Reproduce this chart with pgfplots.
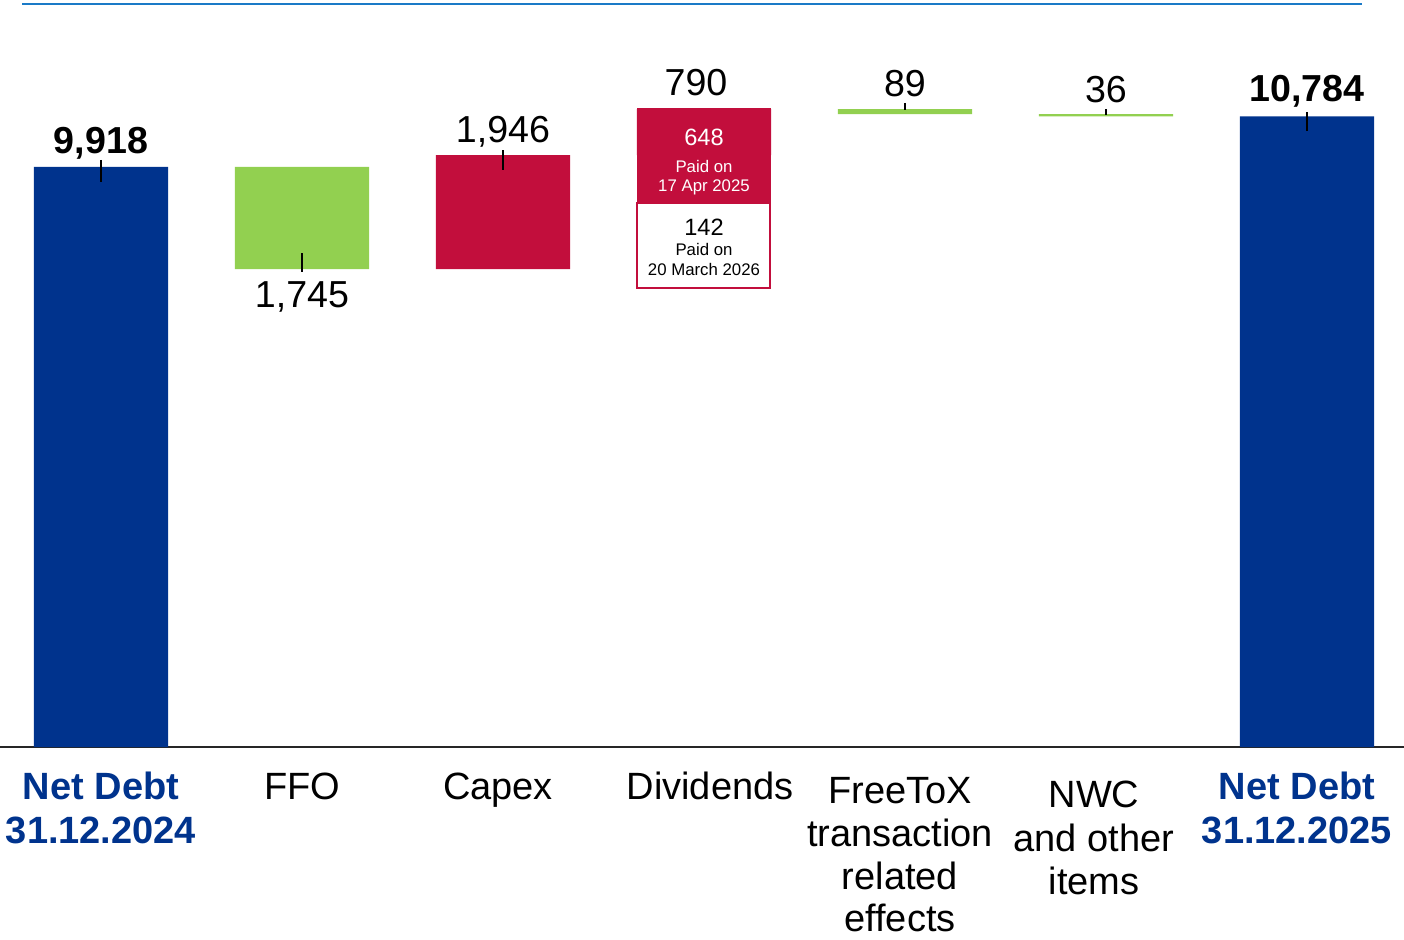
\documentclass[border=0pt]{standalone}
\usepackage{pgfplots}
\pgfplotsset{compat=1.18}
\usepackage{fontspec}
\setmainfont{Liberation Sans}
\definecolor{ndblue}{HTML}{00338D}
\definecolor{wgreen}{HTML}{92D050}
\definecolor{wred}{HTML}{C20E3C}
\definecolor{topblue}{HTML}{1A7AC7}
\newcommand{\lbl}[1]{\begin{tabular}{@{}c@{}}#1\end{tabular}}
\pgfplotsset{frame/.style={at={(0,0)}, anchor=south west,
  scale only axis, width=702pt, height=371.5pt,
  xmin=-0.5025, xmax=6.4826, ymin=0, ymax=12705, clip=false}}
\begin{document}
\begin{tikzpicture}
\useasboundingbox (0,-96pt) rectangle (702pt,373.5pt);
\begin{axis}[
  frame,
  ybar stacked, bar width=0.667,
  axis y line=none, axis x line*=bottom,
  x axis line style={-, line width=1pt, color=black!85},
  xtick={0,1,2,3,4,5,6}, xtick style={draw=none},
  xticklabels={
    {\color{ndblue}\bfseries\lbl{Net Debt\\31.12.2024}},
    {\lbl{FFO}},
    {\lbl{Capex}\hspace*{5pt}},
    {\hspace*{6pt}\lbl{Dividends}},
    {\fontsize{19}{21.4}\selectfont\lbl{\rule{0pt}{17.2pt}FreeToX\\transaction\\related\\effects}\hspace*{5pt}},
    {\lbl{\rule{0pt}{19.3pt}NWC\\and other\\items}\hspace*{12pt}},
    {\color{ndblue}\bfseries\lbl{Net Debt\\31.12.2025}\hspace*{10pt}}},
  xticklabel style={anchor=north, yshift=-7.5pt,
    font=\fontsize{19}{21.8}\selectfont},
]
% invisible base
\addplot[draw=none, fill=none, forget plot] coordinates {(0,0) (1,8173) (2,8173) (3,10119) (4,10820) (5,10784) (6,0)};
% totals
\addplot[draw=none, fill=ndblue] coordinates {(0,9918) (1,0) (2,0) (3,0) (4,0) (5,0) (6,10784)};
% decreases
\addplot[draw=none, fill=wgreen] coordinates {(0,0) (1,1745) (2,0) (3,0) (4,89) (5,36) (6,0)};
% increases
\addplot[draw=none, fill=wred] coordinates {(0,0) (1,0) (2,1946) (3,790) (4,0) (5,0) (6,0)};
\end{axis}
\begin{axis}[frame, hide axis]
% top rule
\draw[topblue, line width=1pt] (axis cs:-0.393,12705) -- (axis cs:6.274,12705);

% dividend annotation boxes
\fill[wred] (axis cs:2.667,10927) rectangle (axis cs:3.333,9302);
\draw[wred, fill=white, line width=0.6pt] (axis cs:2.667,9302) rectangle (axis cs:3.328,7849);
\node[white, anchor=center, font=\fontsize{11.8}{12}\selectfont] at (axis cs:3,10431) {648};
\node[white, anchor=center, font=\fontsize{8.4}{9}\selectfont] at (axis cs:3,9918) {Paid on};
\node[white, anchor=center, font=\fontsize{8.4}{9}\selectfont] at (axis cs:3,9576) {17 Apr 2025};
\node[black, anchor=center, font=\fontsize{11.8}{12}\selectfont] at (axis cs:3,8892) {142};
\node[black, anchor=center, font=\fontsize{8.4}{9}\selectfont] at (axis cs:3,8499) {Paid on};
\node[black, anchor=center, font=\fontsize{8.4}{9}\selectfont] at (axis cs:3,8157) {20 March 2026};

% connector ticks
\draw[black, line width=0.6pt] (axis cs:0,10038) -- (axis cs:0,9661);
\draw[black, line width=0.6pt] (axis cs:1,8447) -- (axis cs:1,8122);
\draw[black, line width=0.6pt] (axis cs:2,10208) -- (axis cs:2,9867);
\draw[black, line width=0.6pt] (axis cs:4,11012) -- (axis cs:4,10893);
\draw[black, line width=0.6pt] (axis cs:5,10909) -- (axis cs:5,10807);
\draw[black, line width=0.6pt] (axis cs:6,10858) -- (axis cs:6,10533);

% value labels
\node[anchor=base, font=\fontsize{18.8}{20}\selectfont\bfseries] at (axis cs:0,10157) {9,918};
\node[anchor=base, font=\fontsize{18.8}{20}\selectfont] at (axis cs:1,7507) {1,745};
\node[anchor=base, font=\fontsize{18.8}{20}\selectfont] at (axis cs:2,10330) {1,946};
\node[anchor=base, font=\fontsize{18.8}{20}\selectfont] at (axis cs:2.96,11132) {790};
\node[anchor=base, font=\fontsize{18.8}{20}\selectfont] at (axis cs:4,11115) {89};
\node[anchor=base, font=\fontsize{18.8}{20}\selectfont] at (axis cs:5,11029) {36};
\node[anchor=base, font=\fontsize{18.8}{20}\selectfont\bfseries] at (axis cs:6,11046) {10,784};
\end{axis}
\end{tikzpicture}
\end{document}
